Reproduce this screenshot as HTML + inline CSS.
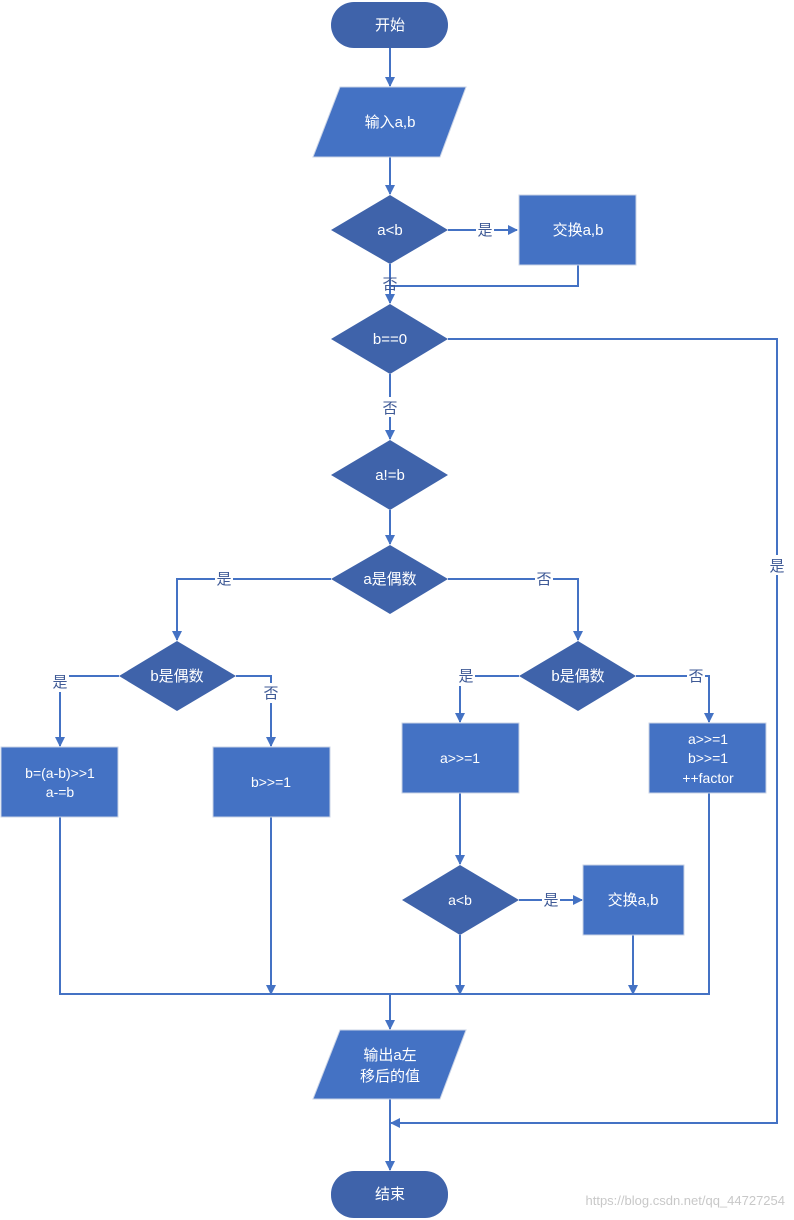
<!DOCTYPE html>
<html><head><meta charset="utf-8"><style>body{margin:0;background:#fff}svg{display:block}</style></head><body>
<svg width="794" height="1220" xmlns="http://www.w3.org/2000/svg" font-family="Liberation Sans, Noto Sans CJK SC, sans-serif">
<defs><marker id="a" markerWidth="10" markerHeight="10" refX="9" refY="5" orient="auto" markerUnits="userSpaceOnUse"><path d="M0,0 L10,5 L0,10 z" fill="#4472C4"/></marker></defs>
<g stroke="#4472C4" stroke-width="2" fill="none">
<path d="M390,48V86" marker-end="url(#a)"/>
<path d="M390,157V194" marker-end="url(#a)"/>
<path d="M448,230H517" marker-end="url(#a)"/>
<path d="M578,265V286H390"/>
<path d="M390,264V303" marker-end="url(#a)"/>
<path d="M448,339H777V1123H391" marker-end="url(#a)"/>
<path d="M390,374V439" marker-end="url(#a)"/>
<path d="M390,510V544" marker-end="url(#a)"/>
<path d="M331,579H177V640" marker-end="url(#a)"/>
<path d="M448,579H578V640" marker-end="url(#a)"/>
<path d="M119,676H60V746" marker-end="url(#a)"/>
<path d="M236,676H271V746" marker-end="url(#a)"/>
<path d="M519,676H460V722" marker-end="url(#a)"/>
<path d="M636,676H709V722" marker-end="url(#a)"/>
<path d="M460,793V864" marker-end="url(#a)"/>
<path d="M519,900H582" marker-end="url(#a)"/>
<path d="M460,935V994" marker-end="url(#a)"/>
<path d="M633,935V994" marker-end="url(#a)"/>
<path d="M271,817V994" marker-end="url(#a)"/>
<path d="M60,817V994H709V793"/>
<path d="M390,994V1029" marker-end="url(#a)"/>
<path d="M390,1099V1170" marker-end="url(#a)"/>
</g>
<g fill="#3F63AA">
<rect x="331" y="2" width="117" height="46" rx="23"/>
<rect x="331" y="1171" width="117" height="47" rx="23"/>
<path d="M390,195L448,230L390,264L331,230z"/>
<path d="M390,304L448,339L390,374L331,339z"/>
<path d="M390,440L448,475L390,510L331,475z"/>
<path d="M390,545L448,579L390,614L331,579z"/>
<path d="M177,641L236,676L177,711L119,676z"/>
<path d="M578,641L636,676L578,711L519,676z"/>
<path d="M460,865L519,900L460,935L402,900z"/>
</g>
<g fill="#4472C4" stroke="#c9d3e6" stroke-width="1">
<path d="M340,87H466L440,157H313z"/>
<path d="M340,1030H466L440,1099H313z"/>
<rect x="519" y="195" width="117" height="70"/>
<rect x="1" y="747" width="117" height="70"/>
<rect x="213" y="747" width="117" height="70"/>
<rect x="402" y="723" width="117" height="70"/>
<rect x="649" y="723" width="117" height="70"/>
<rect x="583" y="865" width="101" height="70"/>
</g>
<g fill="#fff" font-size="15" text-anchor="middle">
<text x="390" y="30">开始</text>
<text x="390" y="1199">结束</text>
<text x="390" y="127">输入a,b</text>
<text x="390" y="235">a&lt;b</text>
<text x="578" y="235">交换a,b</text>
<text x="390" y="344">b==0</text>
<text x="390" y="480">a!=b</text>
<text x="390" y="584">a是偶数</text>
<text x="177" y="681">b是偶数</text>
<text x="578" y="681">b是偶数</text>
<text x="60" y="778" font-size="14">b=(a-b)&gt;&gt;1</text>
<text x="60" y="797" font-size="14">a-=b</text>
<text x="271" y="787" font-size="14">b&gt;&gt;=1</text>
<text x="460" y="763" font-size="14">a&gt;&gt;=1</text>
<text x="708" y="744" font-size="14">a&gt;&gt;=1</text>
<text x="708" y="763" font-size="14">b&gt;&gt;=1</text>
<text x="708" y="783" font-size="14">++factor</text>
<text x="460" y="905" font-size="14">a&lt;b</text>
<text x="633" y="905">交换a,b</text>
<text x="390" y="1060">输出a左</text>
<text x="390" y="1081">移后的值</text>
</g>
<g font-size="15" text-anchor="middle" fill="#3F5A96">
<rect x="476" y="220" width="18" height="18" fill="#fff"/><text x="485" y="235">是</text>
<text x="390" y="289">否</text>
<rect x="380" y="397" width="20" height="20" fill="#fff"/><text x="390" y="413">否</text>
<rect x="768" y="555" width="18" height="20" fill="#fff"/><text x="777" y="571">是</text>
<rect x="215" y="569" width="18" height="20" fill="#fff"/><text x="224" y="584">是</text>
<rect x="535" y="569" width="18" height="20" fill="#fff"/><text x="544" y="584">否</text>
<rect x="51" y="672" width="18" height="20" fill="#fff"/><text x="60" y="687">是</text>
<rect x="262" y="683" width="18" height="20" fill="#fff"/><text x="271" y="698">否</text>
<rect x="457" y="666" width="18" height="20" fill="#fff"/><text x="466" y="681">是</text>
<rect x="687" y="666" width="18" height="20" fill="#fff"/><text x="696" y="681">否</text>
<rect x="542" y="890" width="18" height="20" fill="#fff"/><text x="551" y="905">是</text>
</g>
<text x="785" y="1205" font-size="13" fill="#c8c8c8" text-anchor="end">https://blog.csdn.net/qq_44727254</text>
</svg>
</body></html>
